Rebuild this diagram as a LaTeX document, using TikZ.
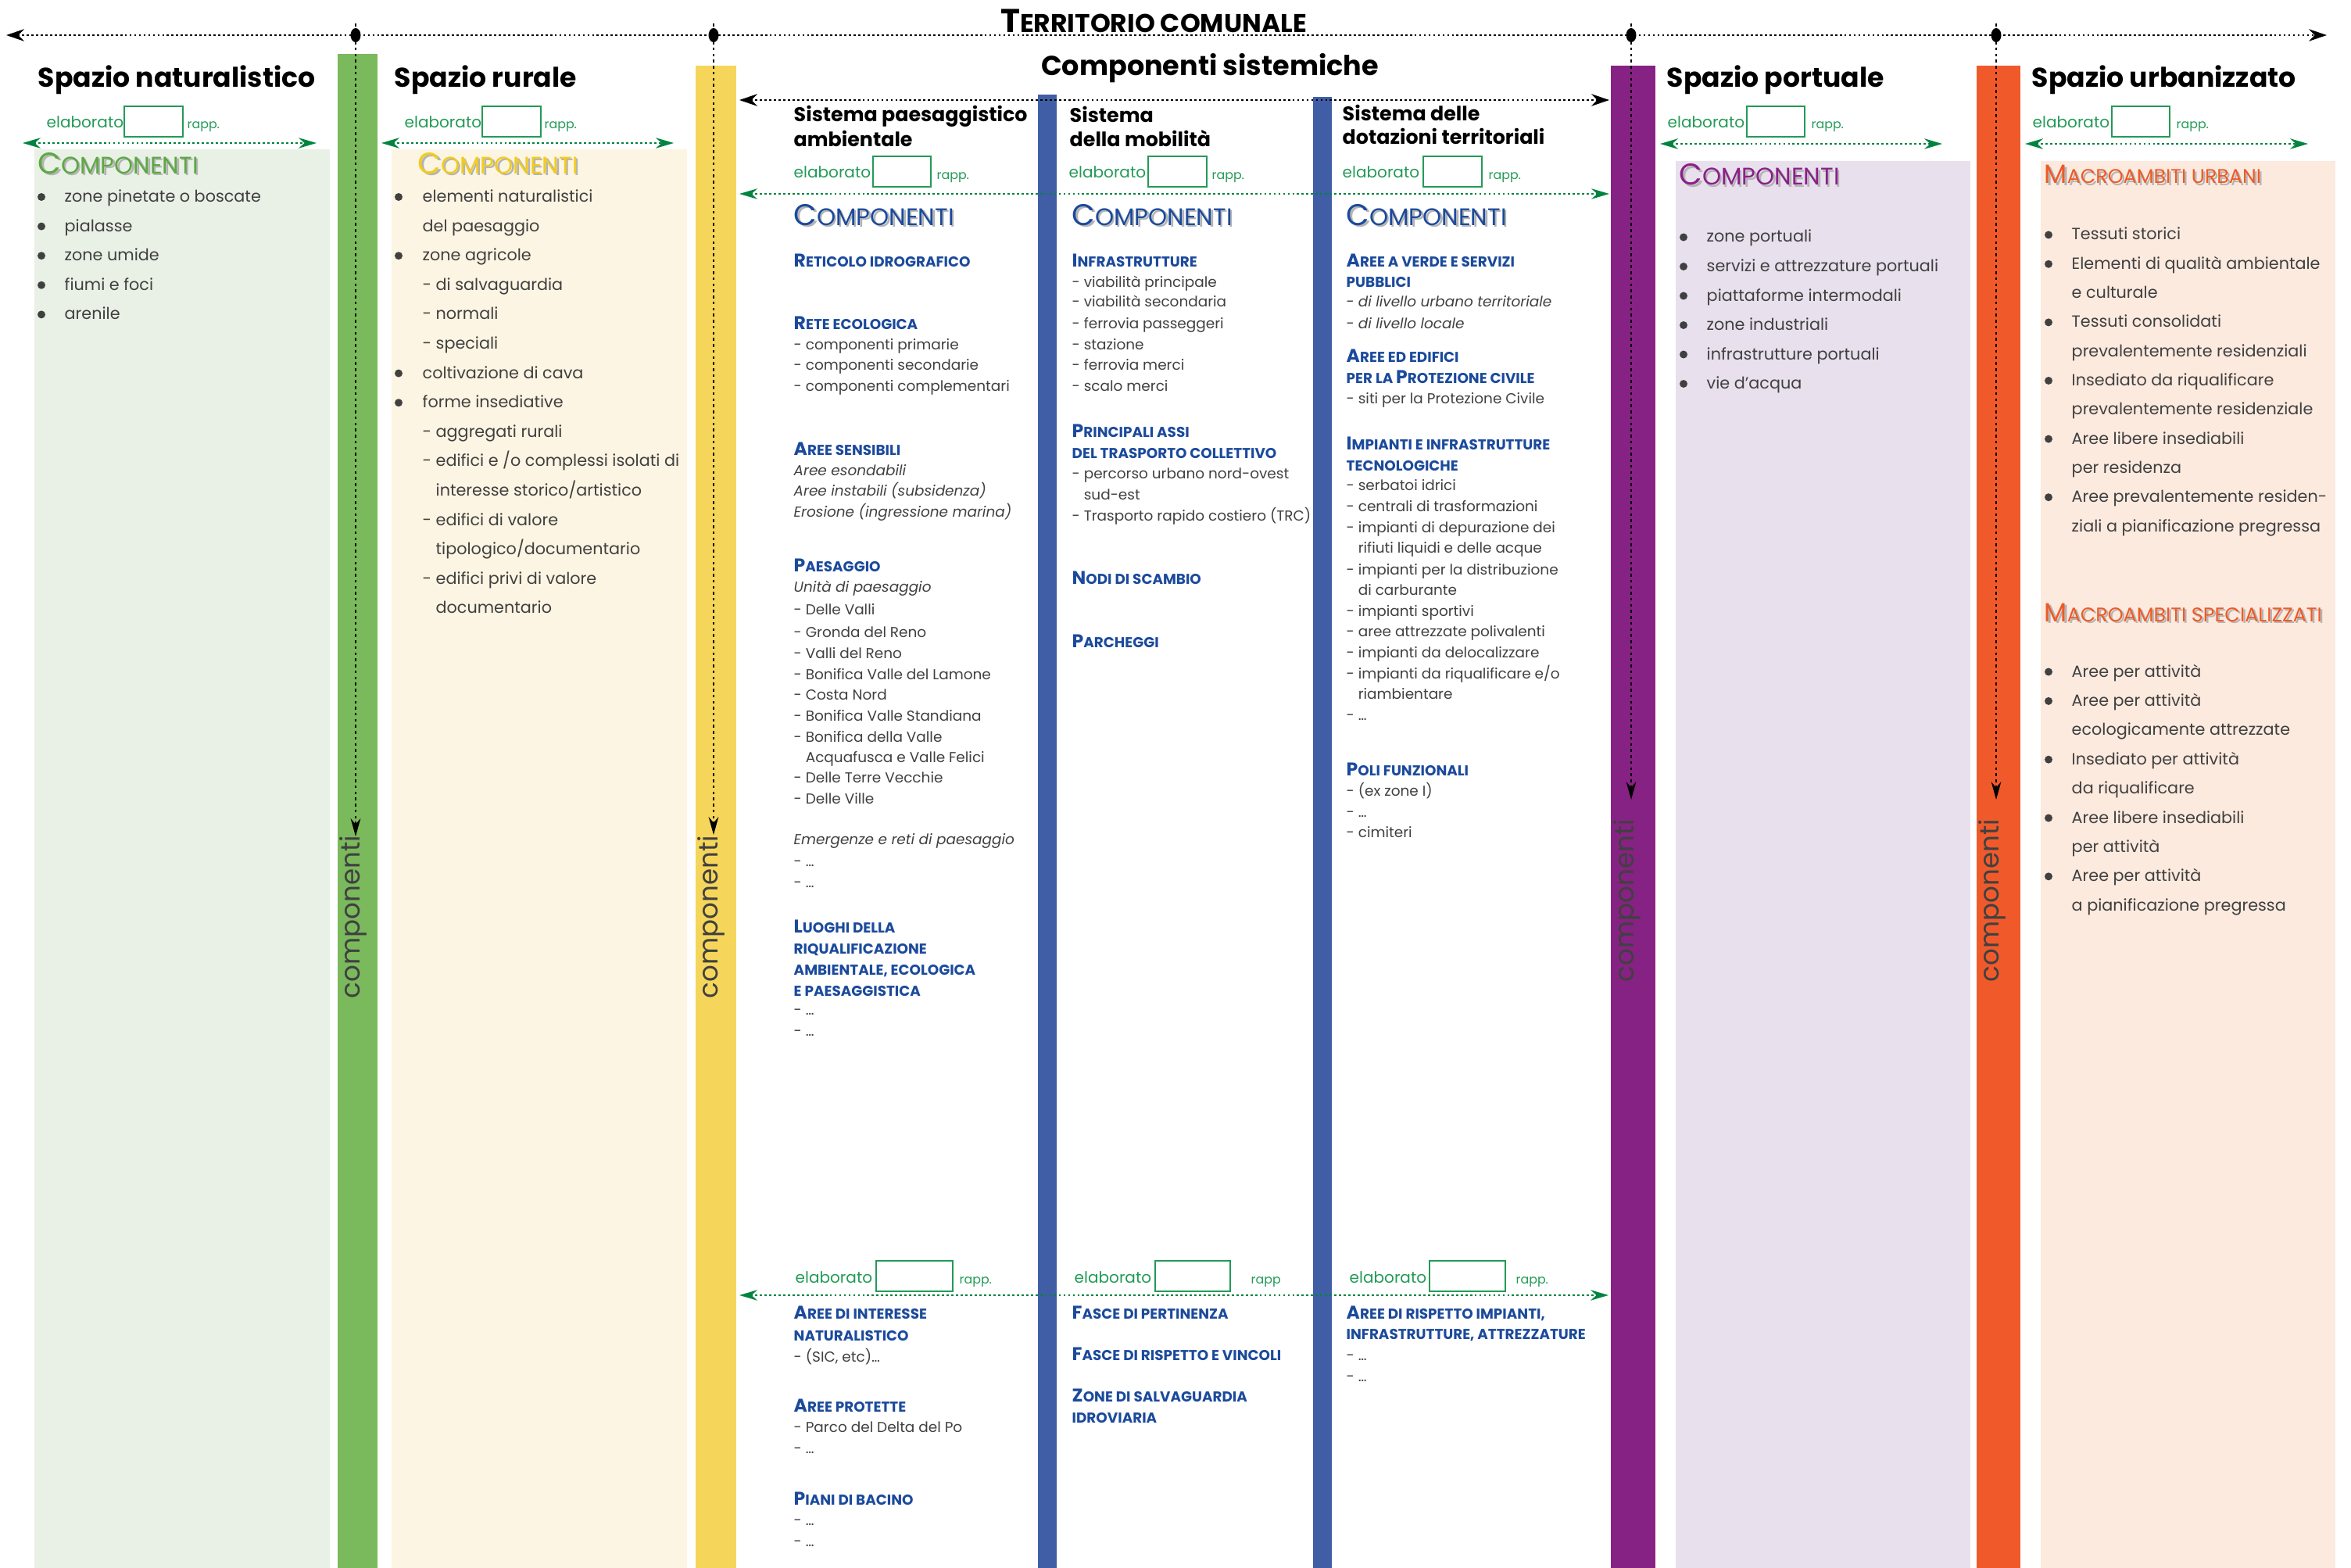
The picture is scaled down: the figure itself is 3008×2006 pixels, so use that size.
\documentclass[tikz,border=0pt]{standalone}
\usepackage{fontspec}
\setmainfont{Poppins}
\usepackage{graphicx}
\usepackage{tikz}
\usetikzlibrary{arrows.meta}

\definecolor{barGreen}{HTML}{7AB95C}
\definecolor{barYellow}{HTML}{F6D65A}
\definecolor{barPurple}{HTML}{862283}
\definecolor{barOrange}{HTML}{F05A2B}
\definecolor{barBlue}{HTML}{3F5EA5}
\definecolor{paneGreen}{HTML}{E9F1E6}
\definecolor{paneYellow}{HTML}{FDF5E3}
\definecolor{panePurple}{HTML}{E8E0ED}
\definecolor{paneOrange}{HTML}{FCEADF}
\definecolor{elabGreen}{HTML}{239A57}
\definecolor{arrGreen}{HTML}{00843F}
\definecolor{hdBlue}{HTML}{1B4A9C}
\definecolor{compGreen}{HTML}{5DA843}
\definecolor{compYellow}{HTML}{F2CC1E}
\definecolor{compPurple}{HTML}{8A2189}
\definecolor{compOrange}{HTML}{EE5A26}
\definecolor{txtGray}{HTML}{404040}
\definecolor{shadowGray}{HTML}{B4B4B4}

% first letter full size, the rest as small caps
\newcommand{\smc}[3][0.78]{#2\scalebox{#1}{#3}}
% grey drop shadow under the big headings
\newcommand{\shd}[1]{\makebox[0pt][l]{\hspace{0.7pt}\raisebox{-0.7pt}{\color{shadowGray}#1}}#1}

\tikzset{
  body/.style={anchor=base west, inner sep=0pt, text=txtGray, font=\fontsize{5.9}{7.1}\selectfont},
  midtxt/.style={anchor=base west, inner sep=0pt, text=txtGray, font=\fontsize{5.25}{6.3}\selectfont},
  bluehd/.style={anchor=base west, inner sep=0pt, text=hdBlue, font=\bfseries\fontsize{6.7}{8}\selectfont},
  spazio/.style={anchor=base west, inner sep=0pt, font=\bfseries\fontsize{9.85}{11}\selectfont},
  sistema/.style={anchor=base west, inner sep=0pt, font=\bfseries\fontsize{7.2}{8.6}\selectfont},
  comphd/.style={anchor=base west, inner sep=0pt, font=\fontsize{10.9}{13}\selectfont},
  elab/.style={anchor=base west, inner sep=0pt, text=elabGreen, font=\fontsize{5.7}{6.8}\selectfont},
  rapp/.style={anchor=base west, inner sep=0pt, text=elabGreen, font=\fontsize{4.5}{5.4}\selectfont},
  elabbox/.style={draw=elabGreen, line width=0.55pt, fill=white},
  vlabel/.style={anchor=base west, inner sep=0pt, rotate=90, text=txtGray, font=\fontsize{9.7}{11}\selectfont},
  dotline/.style={line width=0.8pt, dash pattern=on 0.8pt off 0.9pt},
  blackarr/.style={dotline, {Stealth[length=6.5pt,width=4.4pt]}-{Stealth[length=6.5pt,width=4.4pt]}},
  greenarr/.style={dotline, arrGreen, {Stealth[length=6.5pt,width=3.8pt]}-{Stealth[length=6.5pt,width=3.8pt]}},
  downarr/.style={line width=0.7pt, dash pattern=on 1pt off 1.2pt, -{Stealth[length=6.5pt,width=3.6pt]}},
}

\begin{document}
\begin{tikzpicture}[x=0.01cm, y=-0.01cm]
  \useasboundingbox (0,0) rectangle (3008,2006);

  % Panels
  \fill[paneGreen]  (44,191)   rectangle (422,2006);
  \fill[paneYellow] (501,191)  rectangle (879,2006);
  \fill[panePurple] (2144,206) rectangle (2521,2006);
  \fill[paneOrange] (2611,206) rectangle (2988,2006);

  % Bars
  \fill[barGreen]  (432,69)   rectangle (483,2006);
  \fill[barYellow] (890,84)   rectangle (942,2006);
  \fill[barBlue]   (1328,121) rectangle (1352,2006);
  \fill[barBlue]   (1680,124) rectangle (1704,2006);
  \fill[barPurple] (2061,84)  rectangle (2118,2006);
  \fill[barOrange] (2529,84)  rectangle (2585,2006);

  % Territorio comunale
  \coordinate (tcL) at (8,45);
  \coordinate (tcR) at (2977,45);
  \draw[blackarr] (tcL) -- (tcR);
  \node[font=\bfseries\fontsize{12}{14}\selectfont, anchor=base, inner sep=0pt] (terr) at (1476,42) {\smc{T}{ERRITORIO COMUNALE}};

  % Vertical arrows
  \foreach \x/\t/\n in {455/1070/nat, 913/1068/rur, 2087/1023/por, 2554/1023/urb} {
    \coordinate (\n-top) at (\x,30);
    \coordinate (\n-tip) at (\x,\t);
    \draw[downarr] (\n-top) -- (\n-tip);
    \fill (\x,45) ellipse (6.5 and 9);
  }
  \foreach \x/\y/\n in {460/1278/nat, 918/1278/rur, 2090/1257/por, 2557/1257/urb}
    \node[vlabel] (v-\n) at (\x,\y) {componenti};

  % Titles
  \node[spazio] (tnat) at (48,112)   {Spazio naturalistico};
  \node[spazio] (trur) at (504,112)  {Spazio rurale};
  \node[spazio] (tpor) at (2132,112) {Spazio portuale};
  \node[spazio] (turb) at (2599,112) {Spazio urbanizzato};
  \node[font=\bfseries\fontsize{9.95}{12}\selectfont, anchor=base, inner sep=0pt] (sist) at (1548,97) {Componenti sistemiche};

  \node[sistema] (spa1) at (1015,156) {Sistema paesaggistico};
  \node[sistema] (spa2) at (1015,188) {ambientale};
  \node[sistema] (smo1) at (1368,157) {Sistema};
  \node[sistema] (smo2) at (1368,188) {della mobilità};
  \node[sistema] (sdo1) at (1717,155) {Sistema delle};
  \node[sistema] (sdo2) at (1717,185) {dotazioni territoriali};

  \coordinate (csL) at (946,128);
  \coordinate (csR) at (2059,128);
  \draw[blackarr] (csL) -- (csR);

  % elaborato / rapp.
  \foreach \n/\ex/\bx/\bw/\rx/\y/\r in {nat/59/159/75/239/164/rapp., rur/517/617/75/696/164/rapp.,
      por/2133/2235/74/2317/164/rapp., urb/2600/2702/74/2784/164/rapp.,
      pa/1015/1117/74/1198/228/rapp., mo/1367/1469/75/1550/228/rapp., do/1717/1821/75/1904/228/rapp.,
      pab/1017/1121/98/1227/1641/rapp., mob/1374/1478/96/1600/1641/rapp, dob/1726/1829/97/1939/1641/rapp.} {
    \node[elab] (el-\n) at (\ex,\y) {elaborato};
    \draw[elabbox] (\bx,{\y-28}) rectangle ++(\bw,39);
    \node[rapp] (rp-\n) at (\rx,{\y+1}) {\r};
  }

  % Green arrows
  \foreach \n/\a/\b/\y in {nat/29/405/183, rur/488/862/183, por/2124/2485/184, urb/2591/2953/184,
      sup/946/2059/248, inf/946/2058/1657} {
    \coordinate (\n-ga) at (\a,\y);
    \coordinate (\n-gb) at (\b,\y);
    \draw[greenarr] (\n-ga) -- (\n-gb);
  }

  % Componenti headings
  \node[comphd, text=compGreen]  (cnat) at (48,222)   {\shd{\smc[0.8]{C}{OMPONENTI}}};
  \node[comphd, text=compYellow] (crur) at (534,222)  {\shd{\smc[0.8]{C}{OMPONENTI}}};
  \node[comphd, text=hdBlue]     (cpa)  at (1015,288) {\shd{\smc[0.8]{C}{OMPONENTI}}};
  \node[comphd, text=hdBlue]     (cmo)  at (1371,288) {\shd{\smc[0.8]{C}{OMPONENTI}}};
  \node[comphd, text=hdBlue]     (cdo)  at (1722,288) {\shd{\smc[0.8]{C}{OMPONENTI}}};
  \node[comphd, text=compPurple] (cpor) at (2148,237) {\shd{\smc[0.8]{C}{OMPONENTI}}};
  \node[comphd, font=\fontsize{9.6}{11}\selectfont, text=compOrange] (murb) at (2615,235) {\shd{\smc[0.75]{M}{ACROAMBITI URBANI}}};
  \node[comphd, font=\fontsize{9.6}{11}\selectfont, text=compOrange] (mspe) at (2615,795) {\shd{\smc[0.75]{M}{ACROAMBITI SPECIALIZZATI}}};

  % Spazio naturalistico
  \foreach \i/\txt in {0/{zone pinetate o boscate}, 1/{pialasse}, 2/{zone umide}, 3/{fiumi e foci}, 4/{arenile}} {
    \fill[txtGray] (53,{252+37.6*\i}) circle (5);
    \node[body] (nat\i) at (82,{258.5+37.6*\i}) {\txt};
  }

  % Spazio rurale
  \foreach \i in {0,2,6,7}
    \fill[txtGray] (510,{252+37.6*\i}) circle (5);
  \foreach \i/\txt in {0/{elementi naturalistici}, 1/{del paesaggio}, 2/{zone agricole}, 3/{- di salvaguardia},
      4/{- normali}, 5/{- speciali}, 6/{coltivazione di cava}, 7/{forme insediative}, 8/{- aggregati rurali},
      9/{- edifici e /o complessi isolati di}, 10/{\phantom{- }interesse storico/artistico}, 11/{- edifici di valore},
      12/{\phantom{- }tipologico/documentario}, 13/{- edifici privi di valore}, 14/{\phantom{- }documentario}}
    \node[body] (rur\i) at (540,{258.5+37.6*\i}) {\txt};

  % Sistema paesaggistico ambientale
  \foreach \y/\txt in {342/{\smc{R}{ETICOLO IDROGRAFICO}}, 422/{\smc{R}{ETE ECOLOGICA}}, 582/{\smc{A}{REE SENSIBILI}},
      731/{\smc{P}{AESAGGIO}}, 1193/{\smc{L}{UOGHI DELLA}}, 1220/{\smc{}{RIQUALIFICAZIONE}},
      1247/{\smc{}{AMBIENTALE, ECOLOGICA}}, 1274/{\smc{}{E PAESAGGISTICA}}, 1687/{\smc{A}{REE DI INTERESSE}},
      1715/{\smc{}{NATURALISTICO}}, 1806/{\smc{A}{REE PROTETTE}}, 1925/{\smc{P}{IANI DI BACINO}}}
    \node[bluehd] (pah\y) at (1015,\y) {\txt};
  \foreach \y/\txt in {447/{- componenti primarie}, 473/{- componenti secondarie}, 500/{- componenti complementari},
      608/{\itshape Aree esondabili}, 634/{\itshape Aree instabili (subsidenza)}, 661/{\itshape Erosione (ingressione marina)},
      757/{\itshape Unità di paesaggio}, 786/{- Delle Valli}, 815/{- Gronda del Reno}, 842/{- Valli del Reno},
      869/{- Bonifica Valle del Lamone}, 895/{- Costa Nord}, 922/{- Bonifica Valle Standiana},
      949/{- Bonifica della Valle}, 975/{\phantom{- }Acquafusca e Valle Felici}, 1001/{- Delle Terre Vecchie},
      1028/{- Delle Ville}, 1080/{\itshape Emergenze e reti di paesaggio}, 1108/{- \ldots}, 1135/{- \ldots},
      1298/{- \ldots}, 1325/{- \ldots}, 1742/{- (SIC, etc)\ldots}, 1832/{- Parco del Delta del Po},
      1859/{- \ldots}, 1951/{- \ldots}, 1978/{- \ldots}}
    \node[midtxt] (pab\y) at (1015,\y) {\txt};

  % Sistema della mobilita
  \foreach \y/\txt in {341/{\smc{I}{NFRASTRUTTURE}}, 559/{\smc{P}{RINCIPALI ASSI}}, 586/{\smc{}{DEL TRASPORTO COLLETTIVO}},
      747/{\smc{N}{ODI DI SCAMBIO}}, 828/{\smc{P}{ARCHEGGI}}, 1687/{\smc{F}{ASCE DI PERTINENZA}},
      1740/{\smc{F}{ASCE DI RISPETTO E VINCOLI}}, 1793/{\smc{Z}{ONE DI SALVAGUARDIA}}, 1820/{\smc{}{IDROVIARIA}}}
    \node[bluehd] (moh\y) at (1371,\y) {\txt};
  \foreach \y/\txt in {367/{- viabilità principale}, 393/{- viabilità secondaria}, 420/{- ferrovia passeggeri},
      447/{- stazione}, 473/{- ferrovia merci}, 500/{- scalo merci}, 612/{- percorso urbano nord-ovest},
      639/{\phantom{- }sud-est}, 666/{- Trasporto rapido costiero (TRC)}}
    \node[midtxt] (mob\y) at (1371,\y) {\txt};

  % Sistema delle dotazioni territoriali
  \foreach \y/\txt in {341/{\smc{A}{REE A VERDE E SERVIZI}}, 367/{\smc{}{PUBBLICI}}, 463/{\smc{A}{REE ED EDIFICI}},
      490/{\smc{}{PER LA }\smc{P}{ROTEZIONE CIVILE}}, 575/{\smc{I}{MPIANTI E INFRASTRUTTURE}}, 602/{\smc{}{TECNOLOGICHE}},
      992/{\smc{P}{OLI FUNZIONALI}}, 1687/{\smc{A}{REE DI RISPETTO IMPIANTI,}}, 1713/{\smc{}{INFRASTRUTTURE, ATTREZZATURE}}}
    \node[bluehd] (doh\y) at (1722,\y) {\txt};
  \foreach \y/\txt in {393/{- {\itshape di livello urbano territoriale}}, 420/{- {\itshape di livello locale}},
      516/{- siti per la Protezione Civile}, 627/{- serbatoi idrici}, 654/{- centrali di trasformazioni},
      681/{- impianti di depurazione dei}, 707/{\phantom{- }rifiuti liquidi e delle acque},
      735/{- impianti per la distribuzione}, 761/{\phantom{- }di carburante}, 788/{- impianti sportivi},
      814/{- aree attrezzate polivalenti}, 841/{- impianti da delocalizzare}, 868/{- impianti da riqualificare e/o},
      894/{\phantom{- }riambientare}, 921/{- \ldots}, 1018/{- (ex zone I)}, 1045/{- \ldots}, 1071/{- cimiteri},
      1740/{- \ldots}, 1767/{- \ldots}}
    \node[midtxt] (dob\y) at (1722,\y) {\txt};

  % Spazio portuale
  \foreach \i/\txt in {0/{zone portuali}, 1/{servizi e attrezzature portuali}, 2/{piattaforme intermodali},
      3/{zone industriali}, 4/{infrastrutture portuali}, 5/{vie d’acqua}} {
    \fill[txtGray] (2154,{303.5+37.5*\i}) circle (5);
    \node[body] (por\i) at (2183,{310+37.5*\i}) {\txt};
  }

  % Spazio urbanizzato
  \foreach \i in {0,1,3,5,7,9}
    \fill[txtGray] (2621,{300.5+37.3*\i}) circle (5);
  \foreach \i/\txt in {0/{Tessuti storici}, 1/{Elementi di qualità ambientale}, 2/{e culturale},
      3/{Tessuti consolidati}, 4/{prevalentemente residenziali}, 5/{Insediato da riqualificare},
      6/{prevalentemente residenziale}, 7/{Aree libere insediabili}, 8/{per residenza},
      9/{Aree prevalentemente residen-}, 10/{ziali a pianificazione pregressa}}
    \node[body] (urb\i) at (2650,{307+37.3*\i}) {\txt};
  \foreach \i in {0,1,3,5,7}
    \fill[txtGray] (2621,{859.5+37.4*\i}) circle (5);
  \foreach \i/\txt in {0/{Aree per attività}, 1/{Aree per attività}, 2/{ecologicamente attrezzate},
      3/{Insediato per attività}, 4/{da riqualificare}, 5/{Aree libere insediabili}, 6/{per attività},
      7/{Aree per attività}, 8/{a pianificazione pregressa}}
    \node[body] (spe\i) at (2650,{866+37.4*\i}) {\txt};
\end{tikzpicture}
\end{document}
